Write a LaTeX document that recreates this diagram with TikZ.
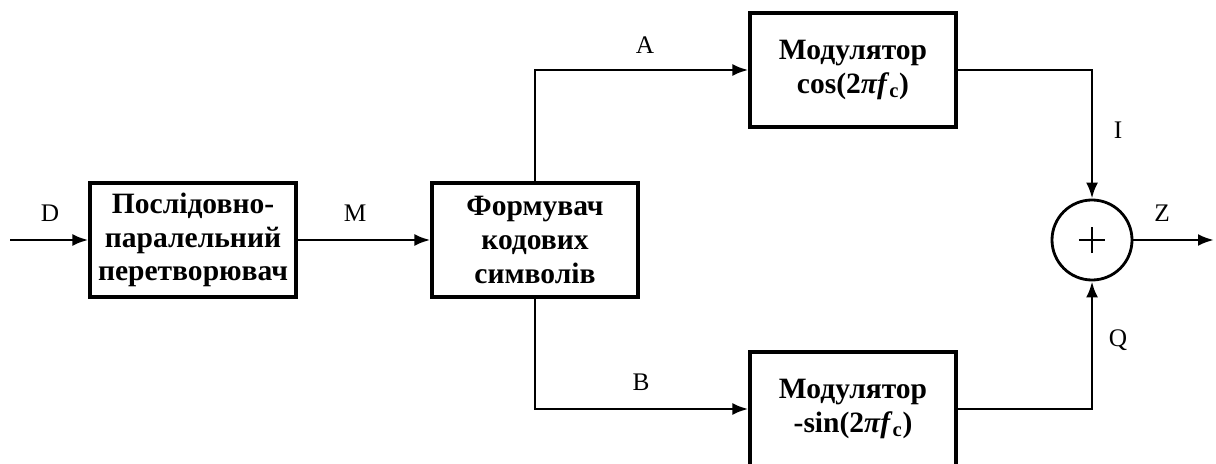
\documentclass[tikz,border=0pt]{standalone}
\usepackage{fontspec}
\setmainfont{Liberation Serif}
\usetikzlibrary{arrows.meta}

\begin{document}
\begin{tikzpicture}[x=0.025cm,y=-0.025cm,
  blk/.style={draw,line width=2.2pt,minimum width=5.15cm,minimum height=2.85cm,
    align=center,font=\fontsize{21}{24}\selectfont\bfseries},
  sig/.style={line width=2pt,-{Latex[length=4mm,width=3mm]}},
  lbl/.style={font=\fontsize{18}{20}\selectfont}]
\useasboundingbox (0,0) rectangle (1216,464);
% blocks
\node[blk] (conv) at (193,240) {Послідовно-\\паралельний\\перетворювач};
\node[blk] (form) at (535,240) {Формувач\\кодових\\символів};
\node[blk] (modc) at (853,70) {Модулятор\\cos(2\textit{πf}\textsubscript{c})};
\node[blk] (mods) at (853,409) {Модулятор\\-sin(2\textit{πf}\textsubscript{c})};
\node[draw,circle,line width=2pt,minimum size=2cm,inner sep=0pt] (sum) at (1092,240) {};
\draw[line width=1.1pt] ([xshift=-0.33cm]sum.center) -- ([xshift=0.33cm]sum.center);
\draw[line width=1.1pt] ([yshift=-0.33cm]sum.center) -- ([yshift=0.33cm]sum.center);
\coordinate (in) at (10,240);
\coordinate (out) at (1214,240);
% connectors
\draw[sig] (in) -- (conv);
\draw[sig] (conv) -- (form);
\draw[sig] (form.north) |- (modc);
\draw[sig] (form.south) |- (mods);
\draw[sig] (modc) -| (sum);
\draw[sig] (mods) -| (sum);
\draw[sig] (sum) -- (out);
% labels
\node[lbl] (lD) at (50,213) {D};
\node[lbl] (lM) at (355,213) {M};
\node[lbl] (lA) at (645,45) {A};
\node[lbl] (lB) at (641,382) {B};
\node[lbl] (lI) at (1118,130) {I};
\node[lbl] (lZ) at (1162,213) {Z};
\node[lbl] (lQ) at (1118,340) {Q};
\end{tikzpicture}
\end{document}
